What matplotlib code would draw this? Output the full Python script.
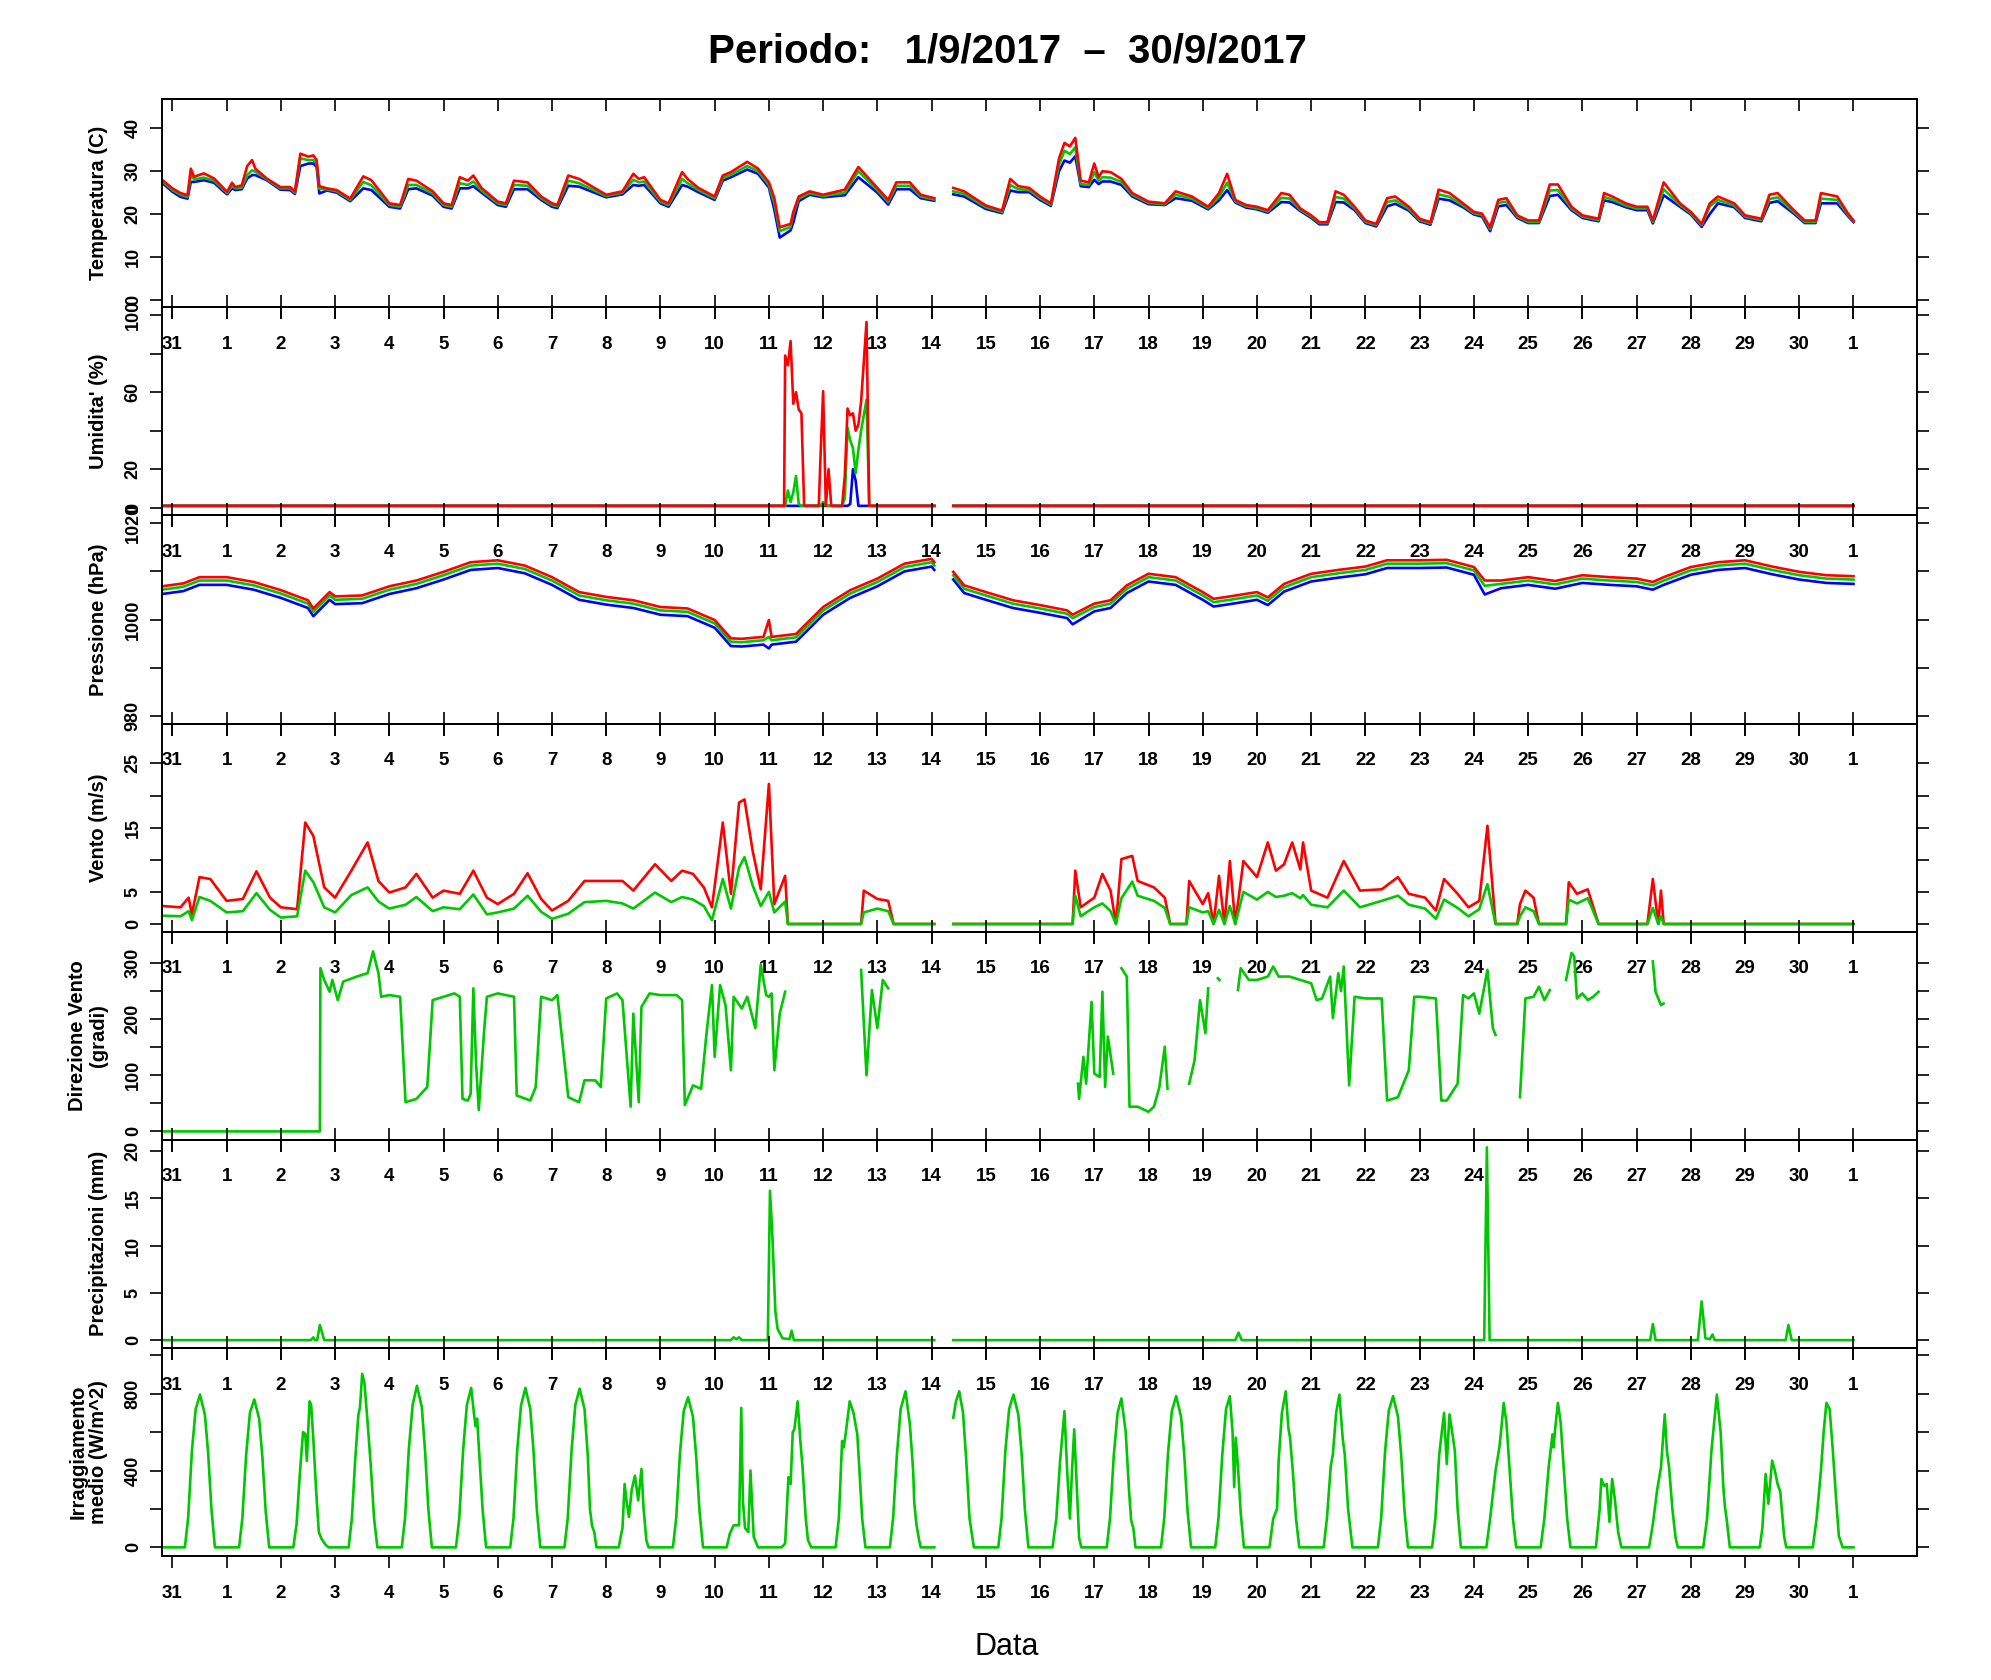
import numpy as np
import matplotlib
matplotlib.use('Agg')
import matplotlib.pyplot as plt

plt.rcParams['font.family'] = ['Liberation Sans', 'DejaVu Sans']

# x axis: days counted from 31/08/2017 00:00
DAY_TICKS = list(range(32))
DAY_LABELS = ['31'] + [str(d) for d in range(1, 31)] + ['1']

TITLE = 'Periodo:   1/9/2017  \u2013  30/9/2017'

# None = missing data (gap)
# temperature: day, red, green, blue
TEMP = [
    (-0.19, 28.0, 27.7, 27.3), (0.00, 26.0, 25.6, 25.2), (0.15, 24.9, 24.5, 24.0),
    (0.28, 24.4, 24.0, 23.6), (0.34, 30.6, 29.1, 27.5), (0.40, 28.7, 28.1, 27.5),
    (0.58, 29.5, 28.5, 27.9), (0.77, 28.3, 27.8, 27.3), (0.95, 26.0, 25.6, 25.2),
    (1.01, 25.2, 24.9, 24.6), (1.10, 27.3, 26.6, 26.0), (1.16, 26.3, 26.0, 25.6),
    (1.28, 26.7, 26.2, 25.8), (1.38, 31.2, 29.1, 28.3), (1.47, 32.6, 30.2, 29.1),
    (1.53, 30.6, 29.9, 29.1), (1.74, 28.3, 28.1, 27.9), (1.99, 26.3, 26.0, 25.7),
    (2.17, 26.3, 26.0, 25.6), (2.26, 25.3, 25.0, 24.7), (2.36, 34.1, 33.0, 31.2),
    (2.51, 33.4, 32.6, 31.8), (2.60, 33.7, 32.6, 31.8), (2.66, 32.6, 31.8, 31.0),
    (2.71, 26.5, 25.9, 24.8), (2.85, 26.0, 25.8, 25.5), (3.03, 25.6, 25.3, 25.0),
    (3.28, 23.6, 23.3, 23.0), (3.52, 28.8, 27.5, 26.0), (3.67, 27.9, 26.7, 25.6),
    (4.00, 22.5, 22.1, 21.7), (4.20, 22.1, 21.7, 21.3), (4.35, 28.2, 26.8, 25.8),
    (4.50, 27.8, 26.8, 26.0), (4.80, 25.3, 24.8, 24.3), (5.00, 22.5, 22.1, 21.7),
    (5.15, 22.1, 21.7, 21.3), (5.30, 28.6, 27.2, 26.0), (5.45, 27.8, 26.8, 26.0),
    (5.55, 29.0, 27.6, 26.5), (5.70, 26.1, 25.5, 25.0), (6.00, 22.9, 22.5, 22.1),
    (6.15, 22.5, 22.1, 21.7), (6.30, 27.8, 26.8, 25.8), (6.55, 27.4, 26.6, 25.8),
    (6.80, 24.1, 23.7, 23.3), (7.00, 22.5, 22.1, 21.7), (7.10, 22.1, 21.8, 21.4),
    (7.30, 29.0, 27.8, 26.6), (7.50, 28.2, 27.2, 26.4), (8.00, 24.5, 24.2, 23.9),
    (8.30, 25.3, 25.0, 24.6), (8.50, 29.4, 28.0, 26.8), (8.60, 28.2, 27.4, 26.6),
    (8.70, 28.6, 27.6, 26.8), (9.00, 23.3, 22.9, 22.5), (9.15, 22.5, 22.1, 21.7),
    (9.40, 29.8, 28.2, 26.8), (9.50, 28.2, 27.2, 26.4), (9.70, 26.1, 25.6, 25.1),
    (10.00, 24.1, 23.7, 23.3), (10.15, 29.0, 28.4, 27.8), (10.30, 29.8, 29.2, 28.6),
    (10.60, 32.2, 31.2, 30.4), (10.80, 30.6, 30.0, 29.4), (11.00, 27.4, 26.8, 26.2),
    (11.10, 23.7, 22.5, 21.0), (11.20, 16.9, 16.0, 14.5), (11.40, 17.7, 17.0, 16.2),
    (11.45, 20.5, 20.0, 18.0), (11.55, 24.1, 23.6, 23.0), (11.75, 25.3, 24.9, 24.5),
    (12.00, 24.5, 24.2, 23.9), (12.40, 25.7, 25.0, 24.4), (12.65, 31.0, 30.0, 28.6),
    (13.00, 26.1, 25.6, 25.0), (13.20, 23.3, 22.8, 22.2), (13.35, 27.4, 26.6, 25.8),
    (13.60, 27.4, 26.6, 25.8), (13.80, 24.5, 24.1, 23.7), (14.05, 23.7, 23.4, 23.1),
    None,
    (14.40, 26.1, 25.3, 24.6), (14.60, 25.3, 24.7, 24.1), (15.00, 22.0, 21.6, 21.2),
    (15.30, 20.8, 20.5, 20.2), (15.45, 28.2, 26.8, 25.5), (15.60, 26.5, 25.8, 25.1),
    (15.80, 26.1, 25.6, 25.1), (16.00, 24.1, 23.7, 23.3), (16.20, 22.5, 22.2, 21.9),
    (16.35, 33.0, 31.5, 30.0), (16.45, 36.6, 34.8, 32.5), (16.55, 35.8, 34.0, 32.0),
    (16.65, 37.8, 35.6, 33.5), (16.75, 27.8, 27.0, 26.5), (16.90, 27.4, 26.8, 26.3),
    (17.00, 31.8, 29.8, 28.0), (17.08, 28.6, 27.8, 27.0), (17.15, 30.0, 28.6, 27.6),
    (17.30, 29.8, 28.5, 27.6), (17.50, 28.2, 27.5, 26.8), (17.70, 24.9, 24.5, 24.1),
    (18.00, 22.9, 22.6, 22.3), (18.30, 22.5, 22.3, 22.1), (18.50, 25.3, 24.5, 23.7),
    (18.80, 24.1, 23.6, 23.1), (19.10, 21.7, 21.4, 21.1), (19.30, 24.9, 24.0, 23.2),
    (19.45, 29.4, 27.3, 25.6), (19.60, 23.3, 23.0, 22.7), (19.80, 22.1, 21.8, 21.5),
    (20.00, 21.7, 21.4, 21.1), (20.20, 20.9, 20.6, 20.3), (20.45, 24.9, 23.8, 22.8),
    (20.60, 24.5, 23.6, 22.7), (20.80, 21.3, 21.0, 20.7), (21.00, 19.7, 19.4, 19.1),
    (21.15, 18.1, 17.9, 17.6), (21.30, 18.1, 17.9, 17.6), (21.45, 25.3, 24.0, 22.8),
    (21.60, 24.5, 23.6, 22.7), (21.80, 21.7, 21.3, 20.9), (22.00, 18.5, 18.2, 17.9),
    (22.20, 17.7, 17.4, 17.1), (22.40, 23.7, 22.8, 21.8), (22.55, 24.1, 23.2, 22.4),
    (22.80, 21.7, 21.2, 20.8), (23.00, 18.9, 18.6, 18.3), (23.20, 18.1, 17.8, 17.5),
    (23.35, 25.7, 24.6, 23.6), (23.55, 24.9, 24.0, 23.2), (23.80, 22.5, 22.0, 21.6),
    (24.00, 20.5, 20.2, 19.9), (24.15, 20.1, 19.8, 19.4), (24.30, 16.9, 16.5, 16.0),
    (24.45, 23.3, 22.6, 21.8), (24.60, 23.7, 22.9, 22.1), (24.80, 19.7, 19.4, 19.1),
    (25.00, 18.5, 18.2, 17.9), (25.20, 18.5, 18.2, 17.9), (25.40, 26.9, 25.5, 24.2),
    (25.55, 26.9, 25.6, 24.5), (25.80, 21.7, 21.3, 20.9), (26.00, 19.7, 19.4, 19.1),
    (26.30, 18.9, 18.6, 18.3), (26.40, 24.9, 24.0, 23.2), (26.55, 24.1, 23.4, 22.8),
    (26.80, 22.5, 22.0, 21.6), (27.00, 21.7, 21.3, 20.9), (27.20, 21.7, 21.3, 20.9),
    (27.30, 18.5, 18.2, 17.8), (27.50, 27.4, 25.8, 24.4), (27.80, 22.5, 22.1, 21.7),
    (28.00, 20.5, 20.2, 19.9), (28.20, 17.7, 17.4, 17.0), (28.35, 22.5, 21.8, 20.0),
    (28.50, 24.1, 23.3, 22.5), (28.80, 22.5, 22.0, 21.6), (29.00, 19.7, 19.4, 19.1),
    (29.30, 18.9, 18.6, 18.3), (29.45, 24.5, 23.5, 22.6), (29.60, 24.9, 23.9, 23.0),
    (29.90, 20.9, 20.5, 20.1), (30.10, 18.5, 18.2, 17.9), (30.30, 18.5, 18.2, 17.9),
    (30.40, 24.9, 23.6, 22.5), (30.70, 24.1, 23.3, 22.5), (30.90, 20.1, 19.8, 19.5),
    (31.00, 18.5, 18.3, 18.1),
]

# humidity: day, red, green, blue
HUM = [
    (-0.19, 1, 1, 1), (11.28, 1, 1, 1), (11.30, 79, 1, 1), (11.35, 74, 9, 1),
    (11.40, 86.5, 3, 1), (11.45, 54, 8, 1), (11.50, 60, 16.5, 1), (11.55, 51, 2, 1),
    (11.60, 49, 1, 1), (11.65, 1, 1, 1), (11.92, 1, 1, 1), (11.95, 25, 1, 1),
    (12.00, 60.5, 3, 1), (12.05, 1, 1, 1), (12.10, 20, 1, 1), (12.15, 1, 1, 1),
    (12.35, 1, 1, 1), (12.40, 16.5, 5, 1), (12.45, 51.5, 41.6, 1), (12.50, 48, 35, 2),
    (12.55, 49, 31, 20), (12.60, 40, 18, 14), (12.65, 43, 30, 1), (12.70, 55, 40, 1),
    (12.80, 96.4, 56, 1), (12.85, 1, 1, 1), (14.05, 1, 1, 1),
    None,
    (14.40, 1, 1, 1), (31.00, 1, 1, 1),
]

# pressure: day, red, green, blue
PRES = [
    (-0.19, 1006.9, 1006.2, 1005.3), (0.20, 1007.5, 1006.8, 1005.9), (0.50, 1008.8, 1008.1, 1007.2),
    (1.00, 1008.8, 1008.1, 1007.2), (1.50, 1007.8, 1007.1, 1006.2), (2.00, 1006.1, 1005.4, 1004.5),
    (2.50, 1004.0, 1003.3, 1002.4), (2.60, 1002.3, 1001.6, 1000.7), (2.90, 1005.7, 1005.0, 1004.1),
    (3.00, 1004.8, 1004.1, 1003.2), (3.50, 1005.0, 1004.3, 1003.4), (4.00, 1006.9, 1006.2, 1005.3),
    (4.50, 1008.1, 1007.4, 1006.5), (5.00, 1009.9, 1009.2, 1008.3), (5.50, 1011.9, 1011.2, 1010.3),
    (6.00, 1012.3, 1011.6, 1010.7), (6.50, 1011.2, 1010.5, 1009.6), (7.00, 1008.8, 1008.1, 1007.2),
    (7.50, 1005.7, 1005.0, 1004.1), (8.00, 1004.7, 1004.0, 1003.1), (8.50, 1004.0, 1003.3, 1002.4),
    (9.00, 1002.6, 1001.9, 1001.0), (9.50, 1002.3, 1001.6, 1000.7), (10.00, 999.9, 999.2, 998.3),
    (10.30, 996.1, 995.4, 994.5), (10.50, 996.0, 995.3, 994.4), (10.90, 996.4, 995.7, 994.8),
    (11.00, 999.9, 996.4, 994.0), (11.05, 996.4, 995.7, 994.8), (11.50, 997.0, 996.3, 995.4),
    (12.00, 1002.6, 1001.9, 1001.0), (12.50, 1006.1, 1005.4, 1004.5), (13.00, 1008.5, 1007.8, 1006.9),
    (13.50, 1011.6, 1010.9, 1010.0), (14.00, 1012.6, 1011.9, 1011.0), (14.05, 1011.9, 1011.2, 1010.3),
    None,
    (14.40, 1009.9, 1009.2, 1008.3), (14.60, 1007.1, 1006.4, 1005.5), (15.00, 1005.7, 1005.0, 1004.1),
    (15.50, 1004.0, 1003.3, 1002.4), (16.00, 1003.0, 1002.3, 1001.4), (16.50, 1001.9, 1001.2, 1000.3),
    (16.60, 1001.0, 1000.3, 999.0), (17.00, 1003.3, 1002.6, 1001.7), (17.30, 1004.0, 1003.3, 1002.4),
    (17.60, 1007.1, 1006.4, 1005.5), (18.00, 1009.5, 1008.8, 1007.9), (18.50, 1008.8, 1008.1, 1007.2),
    (19.00, 1005.7, 1005.0, 1004.1), (19.20, 1004.3, 1003.6, 1002.7), (19.50, 1004.8, 1004.1, 1003.2),
    (20.00, 1005.7, 1005.0, 1004.1), (20.20, 1004.6, 1003.9, 1003.0), (20.50, 1007.4, 1006.7, 1005.8),
    (21.00, 1009.5, 1008.8, 1007.9), (21.50, 1010.3, 1009.6, 1008.7), (22.00, 1011.0, 1010.3, 1009.4),
    (22.40, 1012.3, 1011.6, 1010.7), (23.00, 1012.3, 1011.6, 1010.7), (23.50, 1012.4, 1011.7, 1010.8),
    (24.00, 1010.9, 1010.2, 1009.3), (24.20, 1008.1, 1007.0, 1005.2), (24.50, 1008.1, 1007.4, 1006.5),
    (25.00, 1008.8, 1008.1, 1007.2), (25.50, 1008.0, 1007.3, 1006.4), (26.00, 1009.2, 1008.5, 1007.6),
    (26.50, 1008.8, 1008.1, 1007.2), (27.00, 1008.5, 1007.8, 1006.9), (27.30, 1007.8, 1007.1, 1006.2),
    (27.50, 1008.8, 1008.1, 1007.2), (28.00, 1010.9, 1010.2, 1009.3), (28.50, 1011.9, 1011.2, 1010.3),
    (29.00, 1012.3, 1011.6, 1010.7), (29.50, 1011.0, 1010.3, 1009.4), (30.00, 1009.9, 1009.2, 1008.3),
    (30.50, 1009.2, 1008.5, 1007.6), (31.00, 1009.0, 1008.3, 1007.4),
]

# wind speed: day, red (gust), green (mean)
WIND = [
    (-0.19, 2.8, 1.3), (0.15, 2.6, 1.2), (0.30, 4.1, 2.0), (0.36, 1.5, 0.6), (0.50, 7.3, 4.2),
    (0.70, 7.0, 3.6), (1.00, 3.6, 1.8), (1.30, 3.9, 2.0), (1.55, 8.2, 4.8), (1.80, 4.1, 2.2),
    (2.00, 2.6, 1.0), (2.30, 2.3, 1.2), (2.45, 15.8, 8.3), (2.60, 13.7, 6.5), (2.80, 5.7, 2.6),
    (3.00, 4.1, 1.8), (3.30, 8.3, 4.5), (3.60, 12.7, 5.7), (3.80, 6.7, 3.5), (4.00, 4.9, 2.4),
    (4.30, 5.7, 3.0), (4.50, 7.8, 4.2), (4.80, 4.1, 2.0), (5.00, 5.2, 2.6), (5.30, 4.7, 2.3),
    (5.55, 8.3, 4.6), (5.80, 4.1, 1.5), (6.00, 3.1, 1.8), (6.30, 4.7, 2.4), (6.55, 7.9, 4.4),
    (6.80, 3.9, 1.9), (7.00, 2.1, 0.8), (7.30, 3.6, 1.6), (7.60, 6.7, 3.4), (8.00, 6.7, 3.6),
    (8.30, 6.7, 3.2), (8.50, 5.2, 2.4), (8.90, 9.3, 4.9), (9.20, 6.7, 3.4), (9.40, 8.3, 4.2),
    (9.60, 7.8, 3.8), (9.80, 5.7, 2.8), (9.95, 2.6, 0.6), (10.15, 15.8, 7.0), (10.30, 4.7, 2.4),
    (10.45, 18.9, 8.8), (10.55, 19.4, 10.4), (10.70, 11.4, 6.0), (10.85, 5.4, 2.8),
    (11.00, 21.8, 5.0), (11.10, 3.1, 1.8), (11.30, 7.5, 3.5), (11.35, 0.0, 0.0),
    (12.70, 0.0, 0.0), (12.75, 5.2, 1.8), (13.00, 3.9, 2.4), (13.20, 3.6, 2.0), (13.30, 0.0, 0.0),
    (14.05, 0.0, 0.0),
    None,
    (14.40, 0.0, 0.0), (16.60, 0.0, 0.0), (16.65, 8.3, 4.4), (16.75, 2.6, 1.2), (17.00, 4.1, 2.6),
    (17.15, 7.8, 3.2), (17.30, 5.2, 2.0), (17.40, 0.0, 0.0), (17.50, 10.1, 4.0), (17.70, 10.6, 6.6),
    (17.80, 6.7, 4.4), (18.10, 5.7, 3.6), (18.30, 4.1, 2.5), (18.40, 0.0, 0.0), (18.70, 0.0, 0.0),
    (18.75, 6.7, 2.6), (19.00, 3.1, 1.8), (19.10, 4.8, 2.0), (19.20, 0.0, 0.0), (19.30, 7.5, 2.2),
    (19.40, 0.0, 0.0), (19.50, 9.8, 2.8), (19.60, 0.0, 0.0), (19.75, 9.8, 5.0), (20.00, 7.3, 3.8),
    (20.20, 12.7, 5.0), (20.35, 8.3, 4.2), (20.50, 9.3, 4.4), (20.65, 12.7, 4.8), (20.80, 8.5, 4.0),
    (20.85, 12.7, 4.5), (21.00, 5.2, 3.0), (21.30, 4.1, 2.6), (21.60, 9.8, 5.2), (21.90, 5.2, 2.6),
    (22.30, 5.4, 3.6), (22.60, 7.3, 4.4), (22.80, 4.7, 3.0), (23.10, 4.1, 2.4), (23.30, 2.1, 0.8),
    (23.45, 7.0, 3.8), (23.70, 4.7, 2.5), (23.90, 2.6, 1.2), (24.10, 3.6, 2.3), (24.25, 15.3, 6.2),
    (24.40, 0.0, 0.0), (24.80, 0.0, 0.0), (24.85, 3.1, 1.2), (24.95, 5.2, 2.6), (25.10, 4.1, 2.0),
    (25.20, 0.0, 0.0), (25.70, 0.0, 0.0), (25.75, 6.5, 3.8), (25.90, 4.7, 3.2), (26.10, 5.4, 4.0),
    (26.30, 0.0, 0.0), (27.20, 0.0, 0.0), (27.30, 7.0, 2.5), (27.40, 0.0, 0.0), (27.45, 5.2, 1.2),
    (27.50, 0.0, 0.0), (31.00, 0.0, 0.0),
]

# wind direction (degrees): day, value
WDIR = [
    (-0.19, 0), (2.72, 0), (2.73, 291), (2.80, 270), (2.90, 249), (2.95, 270), (3.05, 234),
    (3.15, 267), (3.40, 276), (3.60, 282), (3.70, 321), (3.80, 282), (3.85, 240), (4.00, 243),
    (4.20, 240), (4.30, 52), (4.50, 58), (4.70, 79), (4.80, 234), (5.00, 240), (5.20, 246),
    (5.30, 240), (5.35, 58), (5.45, 55), (5.50, 67), (5.55, 255), (5.60, 121), (5.65, 38),
    (5.75, 181), (5.80, 240), (6.00, 246), (6.30, 240), (6.35, 64), (6.60, 55), (6.70, 79),
    (6.80, 240), (7.00, 234), (7.10, 243), (7.30, 61), (7.50, 52), (7.60, 91), (7.80, 91),
    (7.90, 79), (8.00, 237), (8.20, 246), (8.30, 234), (8.45, 44), (8.50, 210), (8.60, 52),
    (8.65, 222), (8.80, 246), (9.00, 243), (9.30, 243), (9.40, 234), (9.45, 47), (9.60, 82),
    (9.75, 76), (9.85, 175), (9.95, 261), (10.00, 133), (10.10, 261), (10.20, 225), (10.30, 109),
    (10.35, 240), (10.50, 219), (10.60, 240), (10.75, 184), (10.85, 297), (10.95, 243),
    (11.00, 240), (11.05, 246), (11.10, 109), (11.20, 210), (11.30, 249),
    None,
    (12.70, 288), (12.80, 100), (12.90, 252), (13.00, 184), (13.10, 270), (13.20, 255),
    None,
    (16.70, 85), (16.72, 58), (16.80, 133), (16.85, 85), (16.95, 231), (17.00, 103),
    (17.10, 97), (17.15, 249), (17.20, 79), (17.25, 169), (17.35, 103),
    None,
    (17.50, 291), (17.60, 276), (17.65, 44), (17.80, 44), (18.00, 35), (18.10, 44),
    (18.20, 79), (18.30, 151), (18.35, 76),
    None,
    (18.75, 85), (18.85, 127), (18.95, 234), (19.05, 175), (19.10, 255),
    None,
    (19.28, 273), (19.31, 270),
    None,
    (19.65, 252), (19.70, 291), (19.85, 270), (20.00, 270), (20.20, 276), (20.30, 294),
    (20.40, 276), (20.60, 276), (20.80, 270), (21.00, 264), (21.10, 234), (21.20, 237),
    (21.35, 276), (21.40, 202), (21.50, 282), (21.55, 250), (21.60, 294), (21.70, 82),
    (21.80, 240), (22.00, 237), (22.30, 237), (22.40, 55), (22.60, 61), (22.80, 109),
    (22.90, 240), (23.00, 240), (23.30, 237), (23.40, 55), (23.50, 55), (23.70, 85),
    (23.80, 243), (23.90, 237), (24.00, 246), (24.10, 210), (24.25, 288), (24.35, 184),
    (24.40, 172),
    None,
    (24.85, 61), (24.95, 237), (25.10, 240), (25.20, 258), (25.30, 234), (25.40, 252),
    None,
    (25.70, 270), (25.80, 318), (25.85, 312), (25.90, 237), (26.00, 246), (26.10, 234),
    (26.20, 240), (26.30, 249),
    None,
    (27.30, 303), (27.35, 249), (27.45, 225), (27.50, 228),
]

# precipitation (mm): day, value
RAIN = [
    (-0.19, 0), (2.55, 0), (2.60, 0.3), (2.63, 0), (2.67, 0), (2.72, 1.6), (2.80, 0),
    (10.30, 0), (10.35, 0.3), (10.40, 0.1), (10.45, 0.3), (10.50, 0), (10.98, 0),
    (11.02, 15.8), (11.06, 11.6), (11.12, 3.0), (11.16, 1.2), (11.25, 0.2), (11.38, 0.1),
    (11.42, 1.0), (11.46, 0), (14.05, 0),
    None,
    (14.40, 0), (19.60, 0), (19.66, 0.8), (19.72, 0), (24.19, 0), (24.24, 20.4), (24.29, 0),
    (27.25, 0), (27.30, 1.7), (27.35, 0), (28.13, 0), (28.20, 4.1), (28.27, 0.2), (28.35, 0.1),
    (28.40, 0.6), (28.44, 0), (29.75, 0), (29.80, 1.6), (29.86, 0), (31.00, 0),
]

# mean irradiance (W/m^2): day, value
IRR = [
    (-0.19, 0),
    (0.23, 0), (0.29, 150), (0.36, 500), (0.43, 720), (0.51, 795), (0.60, 690), (0.66, 490), (0.72, 200), (0.785, 0),
    (1.23, 0), (1.29, 150), (1.36, 480), (1.43, 700), (1.51, 770), (1.60, 670), (1.66, 470), (1.72, 190), (1.785, 0),
    (2.23, 0), (2.29, 120), (2.36, 420), (2.41, 600), (2.45, 590), (2.48, 450), (2.53, 760), (2.56, 740),
    (2.60, 560), (2.65, 300), (2.70, 80), (2.75, 45), (2.82, 15), (2.88, 0),
    (3.25, 0), (3.31, 150), (3.37, 450), (3.43, 690), (3.46, 730), (3.50, 903), (3.54, 860), (3.60, 650),
    (3.66, 420), (3.72, 150), (3.78, 0),
    (4.23, 0), (4.29, 150), (4.36, 510), (4.43, 740), (4.51, 841), (4.60, 730), (4.66, 500), (4.72, 200), (4.785, 0),
    (5.23, 0), (5.29, 150), (5.36, 500), (5.43, 740), (5.51, 830), (5.56, 700), (5.59, 630), (5.62, 670),
    (5.66, 480), (5.72, 200), (5.785, 0),
    (6.23, 0), (6.29, 150), (6.36, 510), (6.43, 740), (6.51, 830), (6.60, 720), (6.66, 500), (6.72, 200), (6.785, 0),
    (7.23, 0), (7.29, 150), (7.36, 500), (7.43, 740), (7.51, 826), (7.60, 720), (7.66, 480), (7.70, 200),
    (7.74, 110), (7.78, 80), (7.82, 0),
    (8.23, 0), (8.27, 60), (8.30, 100), (8.34, 330), (8.38, 230), (8.42, 158), (8.47, 300), (8.53, 373),
    (8.59, 244), (8.65, 408), (8.69, 200), (8.74, 38), (8.78, 0),
    (9.23, 0), (9.29, 150), (9.36, 490), (9.43, 710), (9.51, 781), (9.60, 680), (9.66, 470), (9.72, 190), (9.785, 0),
    (10.22, 0), (10.28, 72), (10.35, 115), (10.45, 115), (10.49, 726), (10.52, 244), (10.56, 100),
    (10.62, 80), (10.66, 400), (10.72, 55), (10.80, 0),
    (11.23, 0), (11.30, 20), (11.36, 365), (11.40, 330), (11.44, 600), (11.47, 614), (11.53, 760),
    (11.58, 554), (11.62, 420), (11.68, 150), (11.72, 38), (11.78, 0),
    (12.23, 0), (12.29, 150), (12.35, 554), (12.38, 520), (12.42, 600), (12.49, 760), (12.56, 700),
    (12.63, 588), (12.67, 400), (12.72, 150), (12.78, 0),
    (13.23, 0), (13.29, 150), (13.36, 480), (13.43, 720), (13.52, 812), (13.60, 640), (13.66, 400),
    (13.68, 236), (13.72, 120), (13.77, 38), (13.80, 0), (14.05, 0),
    None,
    (14.40, 675), (14.45, 760), (14.51, 812), (14.58, 700), (14.64, 450), (14.70, 150), (14.78, 0),
    (15.23, 0), (15.29, 150), (15.36, 500), (15.43, 720), (15.51, 795), (15.60, 690), (15.66, 490), (15.72, 200), (15.785, 0),
    (16.23, 0), (16.30, 150), (16.37, 450), (16.45, 709), (16.50, 400), (16.55, 150), (16.59, 400),
    (16.63, 614), (16.68, 300), (16.72, 50), (16.76, 0),
    (17.23, 0), (17.29, 150), (17.36, 480), (17.43, 700), (17.50, 775), (17.58, 600), (17.64, 300),
    (17.68, 141), (17.72, 100), (17.76, 0),
    (18.23, 0), (18.29, 150), (18.36, 490), (18.43, 710), (18.51, 787), (18.60, 680), (18.66, 480), (18.72, 190), (18.785, 0),
    (19.23, 0), (19.29, 150), (19.36, 480), (19.43, 720), (19.50, 787), (19.55, 600), (19.58, 313),
    (19.61, 571), (19.65, 420), (19.70, 180), (19.76, 0),
    (20.23, 0), (20.30, 150), (20.37, 200), (20.40, 450), (20.46, 700), (20.53, 812), (20.58, 620),
    (20.61, 571), (20.66, 400), (20.72, 150), (20.78, 0),
    (21.23, 0), (21.29, 150), (21.36, 420), (21.40, 485), (21.46, 700), (21.52, 795), (21.56, 650),
    (21.58, 571), (21.62, 480), (21.68, 200), (21.76, 0),
    (22.23, 0), (22.29, 150), (22.36, 490), (22.43, 710), (22.51, 787), (22.60, 680), (22.66, 480), (22.72, 190), (22.785, 0),
    (23.23, 0), (23.29, 150), (23.36, 480), (23.45, 700), (23.50, 434), (23.55, 692), (23.60, 600),
    (23.65, 500), (23.70, 200), (23.76, 0),
    (24.23, 0), (24.30, 150), (24.40, 400), (24.47, 520), (24.50, 600), (24.55, 752), (24.60, 650),
    (24.66, 400), (24.72, 150), (24.78, 0),
    (25.23, 0), (25.30, 150), (25.38, 420), (25.45, 588), (25.47, 520), (25.50, 620), (25.55, 752),
    (25.60, 650), (25.66, 400), (25.72, 150), (25.78, 0),
    (26.25, 0), (26.32, 200), (26.35, 356), (26.40, 320), (26.45, 330), (26.50, 133), (26.55, 356),
    (26.60, 250), (26.66, 80), (26.72, 0),
    (27.23, 0), (27.30, 120), (27.38, 300), (27.45, 416), (27.52, 692), (27.56, 500), (27.60, 416),
    (27.66, 200), (27.72, 50), (27.76, 0),
    (28.23, 0), (28.30, 150), (28.38, 500), (28.48, 795), (28.55, 600), (28.60, 313), (28.63, 210),
    (28.66, 150), (28.72, 0),
    (29.27, 0), (29.32, 100), (29.38, 382), (29.43, 227), (29.50, 451), (29.55, 400), (29.60, 330),
    (29.65, 290), (29.68, 193), (29.72, 60), (29.76, 0),
    (30.25, 0), (30.32, 150), (30.40, 400), (30.45, 600), (30.50, 752), (30.56, 720), (30.62, 500),
    (30.68, 250), (30.73, 60), (30.80, 0), (31.00, 0),
]

RED, GREEN, BLUE = '#ff0000', '#00c800', '#0000ff'


def columns(rows):
    # turn the list of tuples into columns, None -> NaN (line break)
    n = len(next(r for r in rows if r is not None))
    data = [[np.nan] * n if r is None else list(r) for r in rows]
    return np.array(data, dtype=float).T


# panel settings: ylabel, ylim, ticks, tick labels
panels = [
    ('Temperatura (C)', (-1.8, 46.8), [0, 10, 20, 30, 40], ['0', '10', '20', '30', '40']),
    ("Umidita' (%)", (-4, 104), [0, 20, 40, 60, 80, 100], ['0', '20', '', '60', '', '100']),
    ('Pressione (hPa)', (978.4, 1021.6), [980, 990, 1000, 1010, 1020], ['980', '', '1000', '', '1020']),
    ('Vento (m/s)', (-1.2, 31.2), [0, 5, 10, 15, 20, 25], ['0', '5', '', '15', '', '25']),
    ('Direzione Vento\n(gradi)', (-15, 356), [0, 50, 100, 150, 200, 250, 300],
     ['0', '', '100', '', '200', '', '300']),
    ('Precipitazioni (mm)', (-0.82, 21.2), [0, 5, 10, 15, 20], ['0', '5', '10', '15', '20']),
    ('Irraggiamento\nmedio (W/m^2)', (-45, 1038), [0, 200, 400, 600, 800, 1000],
     ['0', '', '400', '', '800', '']),
]

fig = plt.figure(figsize=(19.91, 16.80), dpi=100)
axes = fig.subplots(7, 1)
fig.subplots_adjust(left=0.0814, right=0.9628, top=0.9409, bottom=0.0738, hspace=0)

LW = 1.9
t, r, g, b = columns(TEMP)
axes[0].plot(t, b, color=BLUE, lw=LW)
axes[0].plot(t, g, color=GREEN, lw=LW)
axes[0].plot(t, r, color=RED, lw=LW)

t, r, g, b = columns(HUM)
axes[1].plot(t, b, color=BLUE, lw=LW)
axes[1].plot(t, g, color=GREEN, lw=LW)
axes[1].plot(t, r, color=RED, lw=LW)

t, r, g, b = columns(PRES)
axes[2].plot(t, b, color=BLUE, lw=LW)
axes[2].plot(t, g, color=GREEN, lw=LW)
axes[2].plot(t, r, color=RED, lw=LW)

t, r, g = columns(WIND)
axes[3].plot(t, r, color=RED, lw=LW)
axes[3].plot(t, g, color=GREEN, lw=LW)

t, v = columns(WDIR)
axes[4].plot(t, v, color=GREEN, lw=LW)

t, v = columns(RAIN)
axes[5].plot(t, v, color=GREEN, lw=LW)

t, v = columns(IRR)
axes[6].plot(t, v, color=GREEN, lw=LW)

for i, (ax, (ylabel, ylim, yt, ytl)) in enumerate(zip(axes, panels)):
    ax.set_facecolor('none')
    ax.set_xlim(-0.19, 32.17)
    ax.set_ylim(*ylim)
    for sp in ax.spines.values():
        sp.set_linewidth(1.4)

    ax.set_xticks(DAY_TICKS, DAY_LABELS, fontsize=13.5, fontweight='bold')
    ax.tick_params(axis='x', direction='out', length=8.6, width=1.2, pad=12, top=False)
    top = ax.secondary_xaxis('top')
    top.set_xticks(DAY_TICKS)
    top.tick_params(axis='x', direction='in' if i == 0 else 'inout',
                    length=8.6 if i == 0 else 17.2, width=1.2, labeltop=False)
    top.spines['top'].set_linewidth(1.4)

    ax.set_yticks(yt, ytl, fontsize=13, fontweight='bold')
    ax.tick_params(axis='y', which='major', left=True, right=True, direction='out',
                   length=8.6, width=1.2, labelrotation=90, pad=6)
    for lab in ax.get_yticklabels():
        lab.set_va('center')

    ax.set_ylabel(ylabel, fontsize=14.5, fontweight='bold', linespacing=1.1)
    ax.yaxis.set_label_coords(-0.031, 0.5)

fig.text(0.5058, 0.9696, TITLE, ha='center', va='center', fontsize=29, fontweight='bold')
fig.text(0.5058, 0.0196, 'Data', ha='center', va='center', fontsize=22)

fig.savefig('out.png', dpi=100, facecolor='white')
